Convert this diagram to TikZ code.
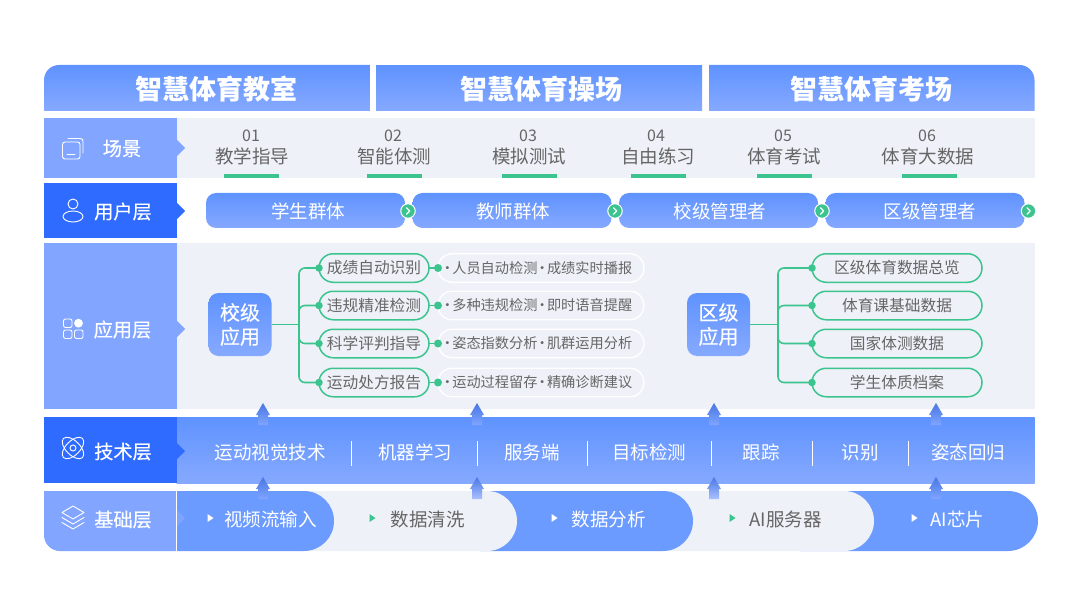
\documentclass[tikz,border=0pt]{standalone}
\usepackage{fontspec}
\setmainfont{Noto Sans CJK SC}
\newfontfamily\medf[FakeBold=0.35]{Noto Sans CJK SC}
\usetikzlibrary{shapes.misc}
\definecolor{bgl}{HTML}{EEF1F8}
\definecolor{lab}{HTML}{82A6FF}
\definecolor{deep}{HTML}{2F6BFF}
\definecolor{gtop}{HTML}{5F93FF}
\definecolor{gbot}{HTML}{86A9FF}
\definecolor{blu}{HTML}{6C9BFF}
\definecolor{grn}{HTML}{3CC48E}
\definecolor{txt}{HTML}{666666}
\definecolor{arT}{HTML}{4A76E4}
\definecolor{arB}{HTML}{7FA5FF}
\definecolor{arL}{HTML}{A9C1FF}
\newcommand{\fs}[1]{\fontsize{#1}{#1}\selectfont}
\newcommand{\md}{\makebox[9.5pt]{·}}
\newcommand{\rb}[1]{\raisebox{-1pt}{#1}}
\newcommand{\dt}[2]{\raisebox{-1pt}{\md #1\md #2\hspace{7pt}}}
\newcommand{\uparr}[3]{\shade[top color=arT,bottom color=#3] (#1,#2) -- (#1+7,#2+12) -- (#1+5,#2+12) -- (#1+5,#2+22) -- (#1-5,#2+22) -- (#1-5,#2+12) -- (#1-7,#2+12) -- cycle;}
\tikzset{
  x=1pt,y=-1pt,
  base/.style={inner sep=0,outer sep=0,align=center},
  grad/.style={base,top color=gtop,bottom color=gbot},
  labbox/.style={base,fill=lab,text=white,minimum width=133pt},
  deepbox/.style={base,fill=deep,text=white,minimum width=133pt},
  scn/.style={base,text=txt,font=\fs{18.5}},
  scnum/.style={base,text=txt,font=\fs{16}},
  barg/.style={base,fill=grn,minimum width=55pt,minimum height=4pt},
  upill/.style={grad,rounded corners=10pt,minimum width=199pt,minimum height=35pt},
  upt/.style={base,text=white,font=\fs{18.5}},
  gcirc/.style={base,circle,fill=grn,draw=white,line width=1pt,minimum size=14.5pt},
  apphub/.style={grad,rounded corners=10pt,minimum width=63pt,minimum height=63pt,text=white,font=\medf\fs{20}},
  gpill/.style={base,rounded rectangle,draw=grn,line width=1.5pt,fill=bgl,minimum height=28.5pt,text=txt,font=\fs{15.7}},
  wpill/.style={base,rounded rectangle,draw=white,line width=1.4pt,fill=bgl,minimum width=206pt,minimum height=28.5pt,text=txt,font=\fs{14.2}},
  conn/.style={draw=grn,line width=1.6pt},
  gdot/.style={base,circle,fill=grn,minimum size=7.5pt},
  sep/.style={draw=white,line width=0.9pt},
  tech/.style={base,text=white,font=\fs{18.5}},
  ico/.style={draw=white,line width=0.9pt,line join=round,line cap=round},
  headt/.style={base,text=white,font=\bfseries\fs{27}},
  lbl/.style={base,text=white,font=\medf\fs{19.2}},
  bt/.style={base,font=\fs{18.5}},
}
\begin{document}
\begin{tikzpicture}
\path[fill=white] (0,0) rectangle (1080,607);
\useasboundingbox (0,0) rectangle (1080,607);
% header
\shade[top color=gtop,bottom color=gbot] (44,111) [rounded corners=15pt] -- (44,65) [sharp corners] -- (370,65) -- (370,111) -- cycle;
\node[grad,minimum width=326pt,minimum height=45.5pt] (h2) at (539,88.25) {};
\shade[top color=gtop,bottom color=gbot] (709,111) -- (709,65) [rounded corners=15pt] -- (1034.5,65) [sharp corners] -- (1034.5,111) -- cycle;
\node[headt] (ht1) at (216,89.5) {智慧体育教室};
\node[headt] (ht2) at (541,89.5) {智慧体育操场};
\node[headt] (ht3) at (871,89.5) {智慧体育考场};
% scene row
\node[base,fill=bgl,minimum width=858pt,minimum height=60pt] (scbg) at (605.5,148) {};
\node[labbox,minimum height=60pt] (sc) at (110.5,148) {};
\fill[lab] (177,140) -- (185,148) -- (177,156) -- cycle;
\node[lbl] (sct) at (122,148.5) {场景};
\draw[ico,rounded corners=2.5pt] (62.5,142) rectangle (80,159);
\draw[ico] (67,154) -- (75,154);
\draw[ico,rounded corners=2.5pt] (68,138.5) -- (83,138.5) -- (83,153);
\node[scnum] (n1) at (251,136) {01}; \node[scn] (s1) at (252,156) {教学指导}; \node[barg] (b1) at (251.5,176) {};
\node[scnum] (n2) at (393,136) {02}; \node[scn] (s2) at (394,156) {智能体测}; \node[barg] (b2) at (394,176) {};
\node[scnum] (n3) at (528,136) {03}; \node[scn] (s3) at (529,156) {模拟测试}; \node[barg] (b3) at (529.5,176) {};
\node[scnum] (n4) at (656,136) {04}; \node[scn] (s4) at (658,156) {自由练习}; \node[barg] (b4) at (658,176) {};
\node[scnum] (n5) at (783,136) {05}; \node[scn] (s5) at (784,156) {体育考试}; \node[barg] (b5) at (784.5,176) {};
\node[scnum] (n6) at (927,136) {06}; \node[scn] (s6) at (928,156) {体育大数据}; \node[barg] (b6) at (929,176) {};
% user row
\node[deepbox,minimum height=55pt] (us) at (110.5,210.5) {};
\fill[deep] (177,203) -- (185,211) -- (177,219) -- cycle;
\node[lbl] (ust) at (123,211.5) {用户层};
\draw[ico] (73,204) circle (5);
\draw[ico] (73,216.5) ellipse (10 and 5.5);
\node[upill] (u1) at (305.5,210.5) {};
\node[upill] (u2) at (512,210.5) {};
\node[upill] (u3) at (718.5,210.5) {};
\node[upill] (u4) at (925,210.5) {};
\node[upt] (ut1) at (308,211.5) {学生群体};
\node[upt] (ut2) at (513,211.5) {教师群体};
\node[upt] (ut3) at (720,211.5) {校级管理者};
\node[upt] (ut4) at (930,211.5) {区级管理者};
\foreach \cx/\nm in {408/c1,615/c2,822/c3,1028.5/c4}{
  \node[gcirc] (\nm) at (\cx,211) {};
  \draw[white,line width=1.3pt,line cap=round,line join=round] (\cx-1.5,207.8) -- (\cx+1.7,211) -- (\cx-1.5,214.2);
}
% app row
\node[base,fill=bgl,minimum width=858pt,minimum height=166pt] (apbg) at (605.5,326) {};
\node[labbox,minimum height=166pt] (ap) at (110.5,326) {};
\fill[lab] (177,321) -- (185,329) -- (177,337) -- cycle;
\node[lbl] (apt) at (122.5,329.5) {应用层};
\draw[ico,rounded corners=2pt] (63.5,319) rectangle (72,327.5);
\fill[white] (78.5,323.2) circle (4.4);
\draw[ico,rounded corners=2pt] (63.5,330) rectangle (72,338.5);
\draw[ico,rounded corners=2pt] (74.5,330) rectangle (83,338.5);
% school hub
\node[apphub] (hubA) at (240,324.5) {校级\\[4pt]应用};
\coordinate (jA) at (299,324.5);
\node[gpill,minimum width=110pt] (a1) at (374,268) {\rb{成绩自动识别}};
\node[gpill,minimum width=110pt] (a2) at (374,305.5) {\rb{违规精准检测}};
\node[gpill,minimum width=110pt] (a3) at (374,343.5) {\rb{科学评判指导}};
\node[gpill,minimum width=110pt] (a4) at (374,382.5) {\rb{运动处方报告}};
\node[wpill] (d1) at (541,268) {\dt{人员自动检测}{成绩实时播报}};
\node[wpill] (d2) at (541,305.5) {\dt{多种违规检测}{即时语音提醒}};
\node[wpill] (d3) at (541,343.5) {\dt{姿态指数分析}{肌群运用分析}};
\node[wpill] (d4) at (541,382.5) {\dt{运动过程留存}{精确诊断建议}};
\draw[conn] (hubA.east) -- (jA);
\foreach \i in {1,2,3,4}{
  \draw[conn,rounded corners=6pt] (jA) |- (a\i.west);
  \node[gdot] (ad\i) at (a\i.west) {};
  \draw[conn] (a\i.east) -- (d\i.west);
  \node[gdot,minimum size=8pt] (dd\i) at (d\i.west) {};
}
% district hub
\node[apphub] (hubB) at (718.5,324.5) {区级\\[4pt]应用};
\coordinate (jB) at (778,324.5);
\node[gpill,minimum width=170pt] (b1p) at (897,268) {\rb{区级体育数据总览}};
\node[gpill,minimum width=170pt] (b2p) at (897,305.5) {\rb{体育课基础数据}};
\node[gpill,minimum width=170pt] (b3p) at (897,343.5) {\rb{国家体测数据}};
\node[gpill,minimum width=170pt] (b4p) at (897,382.5) {\rb{学生体质档案}};
\draw[conn] (hubB.east) -- (jB);
\foreach \i in {1,2,3,4}{
  \draw[conn,rounded corners=6pt] (jB) |- (b\i p.west);
  \node[gdot] (bd\i) at (b\i p.west) {};
}
% tech row
\node[grad,minimum width=858pt,minimum height=66pt] (tebg) at (605.5,450) {};
\node[deepbox,minimum height=66pt] (te) at (110.5,450) {};
\fill[deep] (177,443) -- (185,451) -- (177,459) -- cycle;
\node[lbl] (tet) at (123,451.5) {技术层};
\draw[ico] (73,448) circle (3);
\draw[ico,rotate around={45:(73,448)}] (73,448) ellipse (13.5 and 7);
\draw[ico,rotate around={-45:(73,448)}] (73,448) ellipse (13.5 and 7);
\node[tech] (t1) at (270,452.5) {运动视觉技术};
\node[tech] (t2) at (415,452.5) {机器学习};
\node[tech] (t3) at (532,452.5) {服务端};
\node[tech] (t4) at (649,452.5) {目标检测};
\node[tech] (t5) at (761,452.5) {跟踪};
\node[tech] (t6) at (860,452.5) {识别};
\node[tech] (t7) at (968,452.5) {姿态回归};
\foreach \sx in {351,477,587,711,812,908}{ \draw[sep] (\sx,441) -- (\sx,466); }
% base row
\fill[blu] (800,491) [rounded corners=30pt] -- (1038,491) -- (1038,551) [sharp corners] -- (800,551) -- cycle;
\fill[bgl] (640,491) [rounded corners=30pt] -- (874,491) -- (874,551) [sharp corners] -- (640,551) -- cycle;
\fill[blu] (480,491) [rounded corners=30pt] -- (693,491) -- (693,551) [sharp corners] -- (480,551) -- cycle;
\fill[bgl] (300,491) [rounded corners=30pt] -- (517,491) -- (517,551) [sharp corners] -- (300,551) -- cycle;
\fill[blu] (177,491) [rounded corners=30pt] -- (334,491) -- (334,551) [sharp corners] -- (177,551) -- cycle;
\fill[lab] (44,491) [rounded corners=16pt] -- (44,551) [sharp corners] -- (176.5,551) -- (176.5,491) -- cycle;
\draw[sep,line width=0.7pt] (176.5,491) -- (176.5,551);
\fill[lab!85!blu] (177,510) -- (185,518) -- (177,526) -- cycle;
\node[lbl] (bat) at (123,519.5) {基础层};
\draw[ico] (73,506) -- (84,512.5) -- (73,519) -- (62,512.5) -- cycle;
\draw[ico] (62,517.5) -- (73,524) -- (84,517.5);
\draw[ico] (62,522.5) -- (73,529) -- (84,522.5);
\node[bt,text=white] (p1) at (270.5,519.5) {视频流输入};
\node[bt,text=txt] (p2) at (427.5,519.5) {数据清洗};
\node[bt,text=white] (p3) at (608.5,519.5) {数据分析};
\node[bt,text=txt] (p4) at (785.5,519.5) {AI服务器};
\node[bt,text=white] (p5) at (957.5,519.5) {AI芯片};
\fill[white] (207.5,514) -- (213.5,518) -- (207.5,522) -- cycle;
\fill[grn] (369.5,514) -- (375.5,518) -- (369.5,522) -- cycle;
\fill[white] (551.5,514) -- (557.5,518) -- (551.5,522) -- cycle;
\fill[grn] (729.5,514) -- (735.5,518) -- (729.5,522) -- cycle;
\fill[white] (911.5,514) -- (917.5,518) -- (911.5,522) -- cycle;
% arrows
\uparr{263}{403}{arB}\uparr{477}{403}{arB}\uparr{714}{403}{arB}\uparr{936}{403}{arB}
\uparr{263}{477}{arB}\uparr{477}{477}{arL}\uparr{714}{477}{arL}\uparr{936}{477}{arB}
\end{tikzpicture}
\end{document}
